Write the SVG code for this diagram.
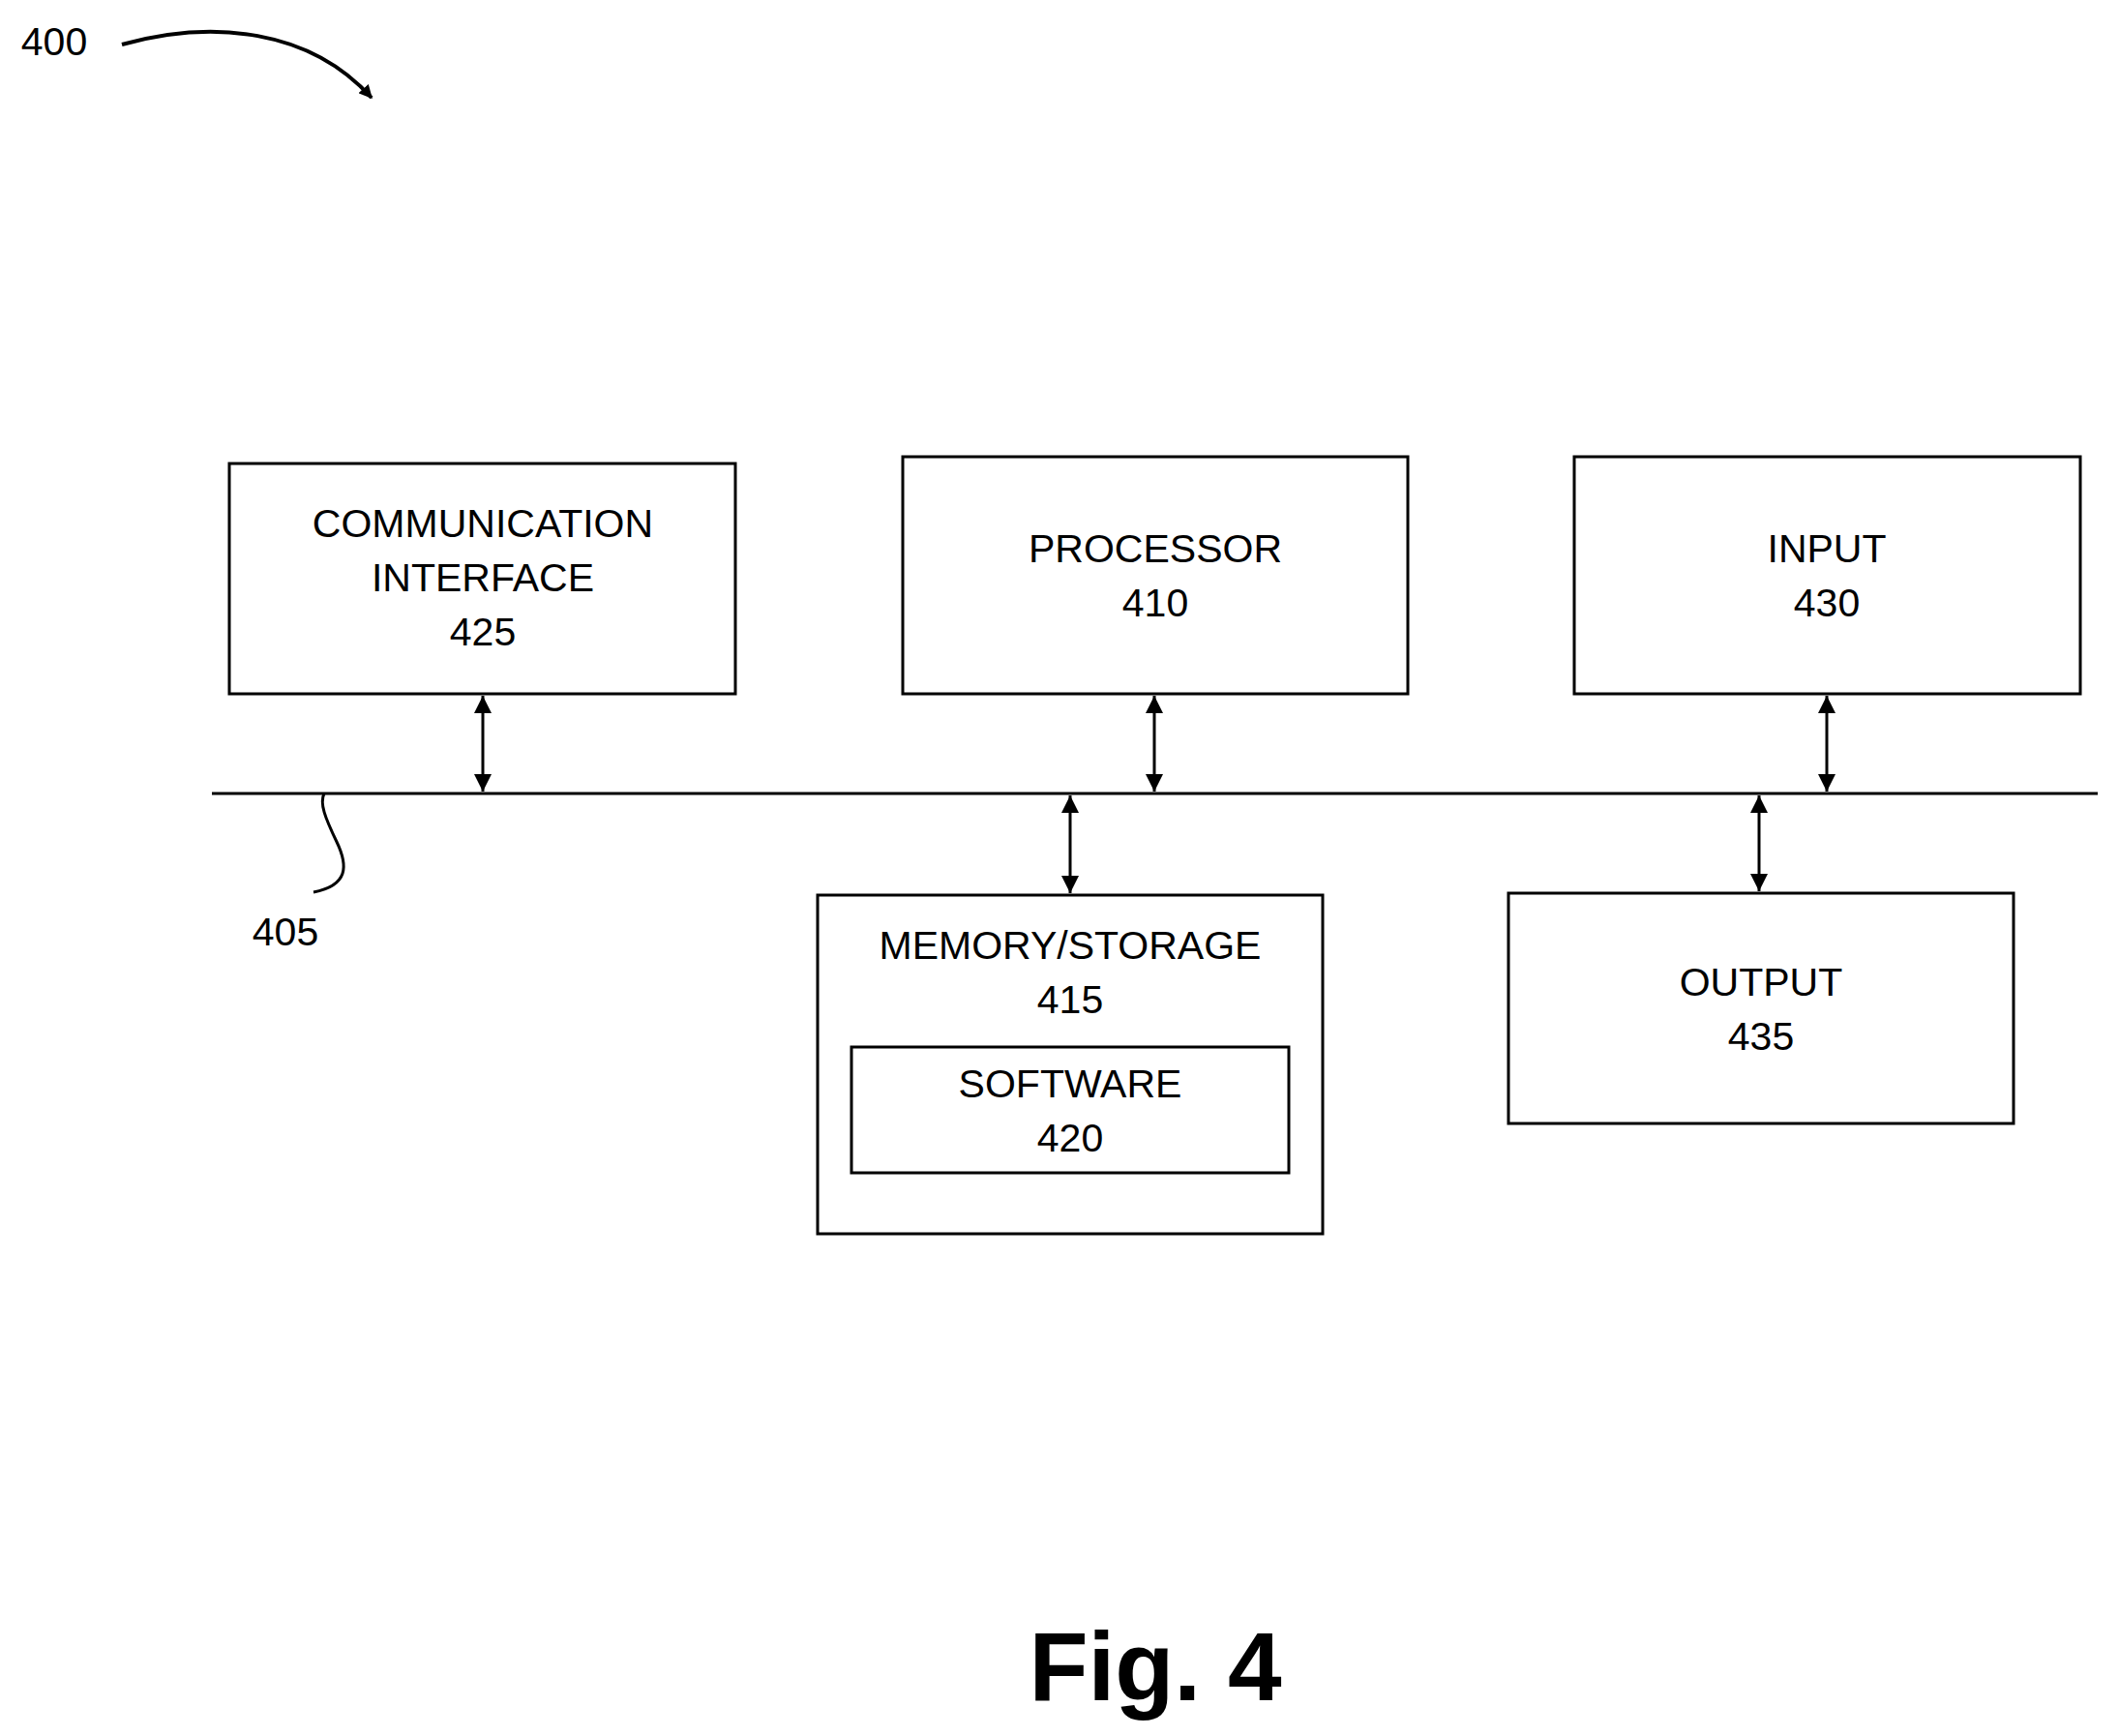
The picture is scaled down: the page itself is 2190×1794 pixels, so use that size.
<svg xmlns="http://www.w3.org/2000/svg" width="2190" height="1794" viewBox="0 0 2190 1794">
<defs>
<marker id="a" viewBox="0 0 10 10" refX="10" refY="5" markerWidth="6" markerHeight="6" orient="auto-start-reverse"><path d="M0,0 L10,5 L0,10 z" fill="#000"/></marker>
<marker id="b" viewBox="0 0 10 10" refX="9" refY="5" markerWidth="14" markerHeight="14" markerUnits="userSpaceOnUse" orient="auto"><path d="M0,0 L10,5 L0,10 z" fill="#000"/></marker>
</defs>
<style>
rect{fill:#fff;stroke:#000;stroke-width:3}
text{font-family:"Liberation Sans",Arial,sans-serif;font-size:41px;text-anchor:middle;fill:#000}
.c{stroke:#000;stroke-width:3;fill:none}
</style>
<rect width="2190" height="1794" style="stroke:none"/>
<g id="connectors">
<line class="c" x1="219" y1="820" x2="2168" y2="820"/>
<line class="c" x1="499" y1="719" x2="499" y2="818" marker-start="url(#a)" marker-end="url(#a)"/>
<line class="c" x1="1193" y1="719" x2="1193" y2="818" marker-start="url(#a)" marker-end="url(#a)"/>
<line class="c" x1="1888" y1="719" x2="1888" y2="818" marker-start="url(#a)" marker-end="url(#a)"/>
<line class="c" x1="1106" y1="822" x2="1106" y2="923" marker-start="url(#a)" marker-end="url(#a)"/>
<line class="c" x1="1818" y1="822" x2="1818" y2="921" marker-start="url(#a)" marker-end="url(#a)"/>
<path class="c" d="M324,922 C360,915 360,895 348,870 C336,845 330,830 335,820"/>
<path class="c" d="M126,46 C220,20 320,30 384,101" style="stroke-width:4" marker-end="url(#b)"/>
</g>
<g id="n425"><rect x="237" y="479" width="523" height="238"/><text x="499" y="555">COMMUNICATION</text><text x="499" y="611">INTERFACE</text><text x="499" y="667">425</text></g>
<g id="n410"><rect x="933" y="472" width="522" height="245"/><text x="1194" y="581">PROCESSOR</text><text x="1194" y="637">410</text></g>
<g id="n430"><rect x="1627" y="472" width="523" height="245"/><text x="1888" y="581">INPUT</text><text x="1888" y="637">430</text></g>
<g id="n415"><rect x="845" y="925" width="522" height="350"/><text x="1106" y="991">MEMORY/STORAGE</text><text x="1106" y="1047">415</text></g>
<g id="n420"><rect x="880" y="1082" width="452" height="130"/><text x="1106" y="1134">SOFTWARE</text><text x="1106" y="1190">420</text></g>
<g id="n435"><rect x="1559" y="923" width="522" height="238"/><text x="1820" y="1029">OUTPUT</text><text x="1820" y="1085">435</text></g>
<g id="labels">
<text x="56" y="57">400</text>
<text x="295" y="977">405</text>
<text x="1194" y="1757" style="font-size:100px;font-weight:bold">Fig. 4</text>
</g>
</svg>
